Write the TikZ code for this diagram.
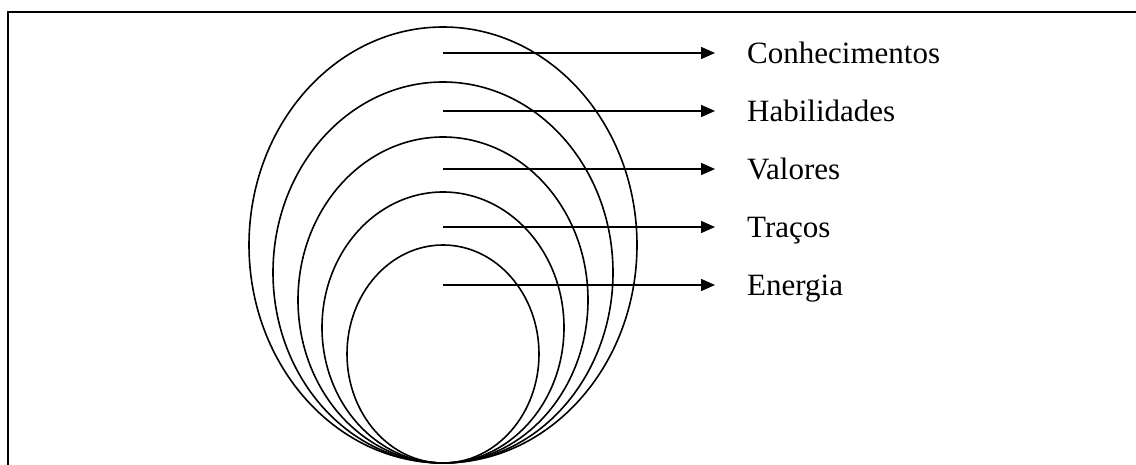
\documentclass[tikz,border=0pt]{standalone}
\usepackage{fontspec}
\setmainfont{Liberation Serif}
\usetikzlibrary{shapes.geometric,arrows.meta}

\tikzset{
  ring/.style={draw, ellipse, line width=1.6pt, inner sep=0pt},
  pointer/.style={-{Triangle[length=14pt,width=12pt]}, line width=1.6pt, shorten >=32pt},
  lbl/.style={anchor=base west, inner sep=0pt, font=\fontsize{31pt}{37pt}\selectfont}
}

\begin{document}
\begin{tikzpicture}[x=1pt,y=-1pt]
\useasboundingbox (0,0) rectangle (1136,465);

% Frame (cut off at right and bottom)
\draw[line width=2pt] (8,465) -- (8,12) -- (1136,12);

% Nested ellipses, touching at the bottom
\foreach \n/\rx/\ry in {1/194/218, 2/170/190.5, 3/145/163, 4/121/135.5, 5/96/109}
  \node[ring, minimum width=\rx*2pt, minimum height=\ry*2pt] (ring\n) at (443,463-\ry) {};

% Arrows and labels
\foreach \n/\yy/\txt in {1/53/Conhecimentos, 2/111/Habilidades, 3/169/Valores, 4/227/Traços, 5/285/Energia} {
  \coordinate (from\n) at (443,\yy);
  \node[lbl] (name\n) at (747,\yy+11) {\txt};
  \draw[pointer] (from\n) -- (from\n -| name\n.west);
}
\end{tikzpicture}
\end{document}
